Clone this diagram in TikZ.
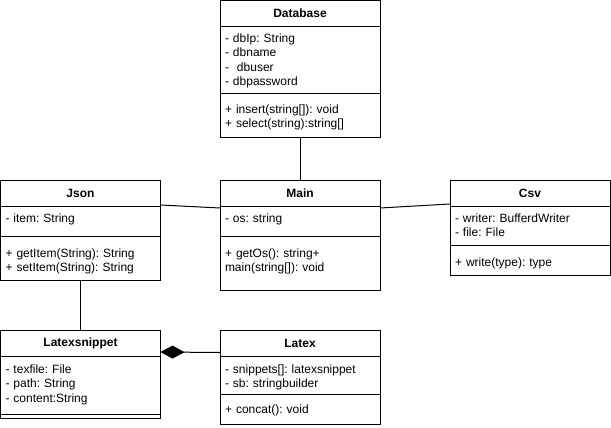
\documentclass[tikz,border=0pt]{standalone}
\usepackage{fontspec}
\setmainfont{Liberation Sans}
\usetikzlibrary{arrows.meta,positioning}
\frenchspacing

\begin{document}
\begin{tikzpicture}[x=1pt,y=-1pt,line width=1pt,
      every node/.style={font=\fontsize{12}{14.4}\selectfont,outer sep=0pt},
      ttl/.style={draw,minimum width=160pt,minimum height=26pt,inner sep=0pt,
                  font=\fontsize{12}{14.4}\selectfont\bfseries},
      cmp/.style 2 args={draw,text width=150pt,inner xsep=5pt,inner ysep=0pt,align=left,
                  text height=#1pt,text depth=#2pt},
      comp/.style={-{Diamond[length=24pt,width=13pt,fill=black]}}]
    \useasboundingbox (0,0) rectangle (611,428);
    % Database
    \node[ttl] (dbttl) at (300,13.5) {Database};
    \node[cmp={16}{51},below=0pt of dbttl] (dbatt)
      {- dbIp: String\\- dbname\\- \ dbuser\\- dbpassword};
    \node[cmp={20}{24},below=0pt of dbatt] (dbmth)
      {+ insert(string[]): void\\+ select(string):string[]};
    % Json
    \node[ttl] (jsttl) at (80.5,193) {Json};
    \node[cmp={16}{14},below=0pt of jsttl] (jsatt) {- item: String};
    \node[cmp={21.5}{22.5},below=0pt of jsatt] (jsmth)
      {+ getItem(String): String\\+ setItem(String): String};
    % Main
    \node[ttl] (mnttl) at (300,193) {Main};
    \node[cmp={16}{14},below=0pt of mnttl] (mnatt) {- os: string};
    \node[cmp={21.5}{32.5},below=0pt of mnatt] (mnmth)
      {+ getOs(): string+\\main(string[]): void};
    % Csv
    \node[ttl] (csttl) at (530,193) {Csv};
    \node[cmp={16.5}{22.5},below=0pt of csttl] (csatt)
      {- writer: BufferdWriter\\- file: File};
    \node[cmp={21.5}{8.5},below=0pt of csatt] (csmth) {+ write(type): type};
    % Latexsnippet
    \node[ttl] (lsttl) at (80.5,343) {Latexsnippet};
    \node[cmp={17.5}{40.5},below=0pt of lsttl] (lsatt)
      {- texfile: File\\- path: String\\- content:String};
    \node[cmp={0}{4},below=0pt of lsatt] (lsmth) {};
    % Latex
    \node[ttl] (lxttl) at (300,343) {Latex};
    \node[cmp={17.5}{20.5},below=0pt of lxttl] (lxatt)
      {- snippets[]: latexsnippet\\- sb: stringbuilder};
    \node[cmp={19.5}{10.5},below=0pt of lxatt] (lxmth) {+ concat(): void};
    % links
    \draw (dbmth.south) -- (mnttl.north);
    \draw ([yshift=1pt]jsttl.south east) -- ([yshift=-2pt]mnttl.south west);
    \draw ([yshift=-2pt]mnttl.south east) -- ([yshift=2pt]csttl.south west);
    \draw (jsmth.south) -- (lsttl.north);
    \draw[comp] ([yshift=3.5pt]lxttl.south west) -- ([yshift=4pt]lsttl.south east);
  \end{tikzpicture}
\end{document}
